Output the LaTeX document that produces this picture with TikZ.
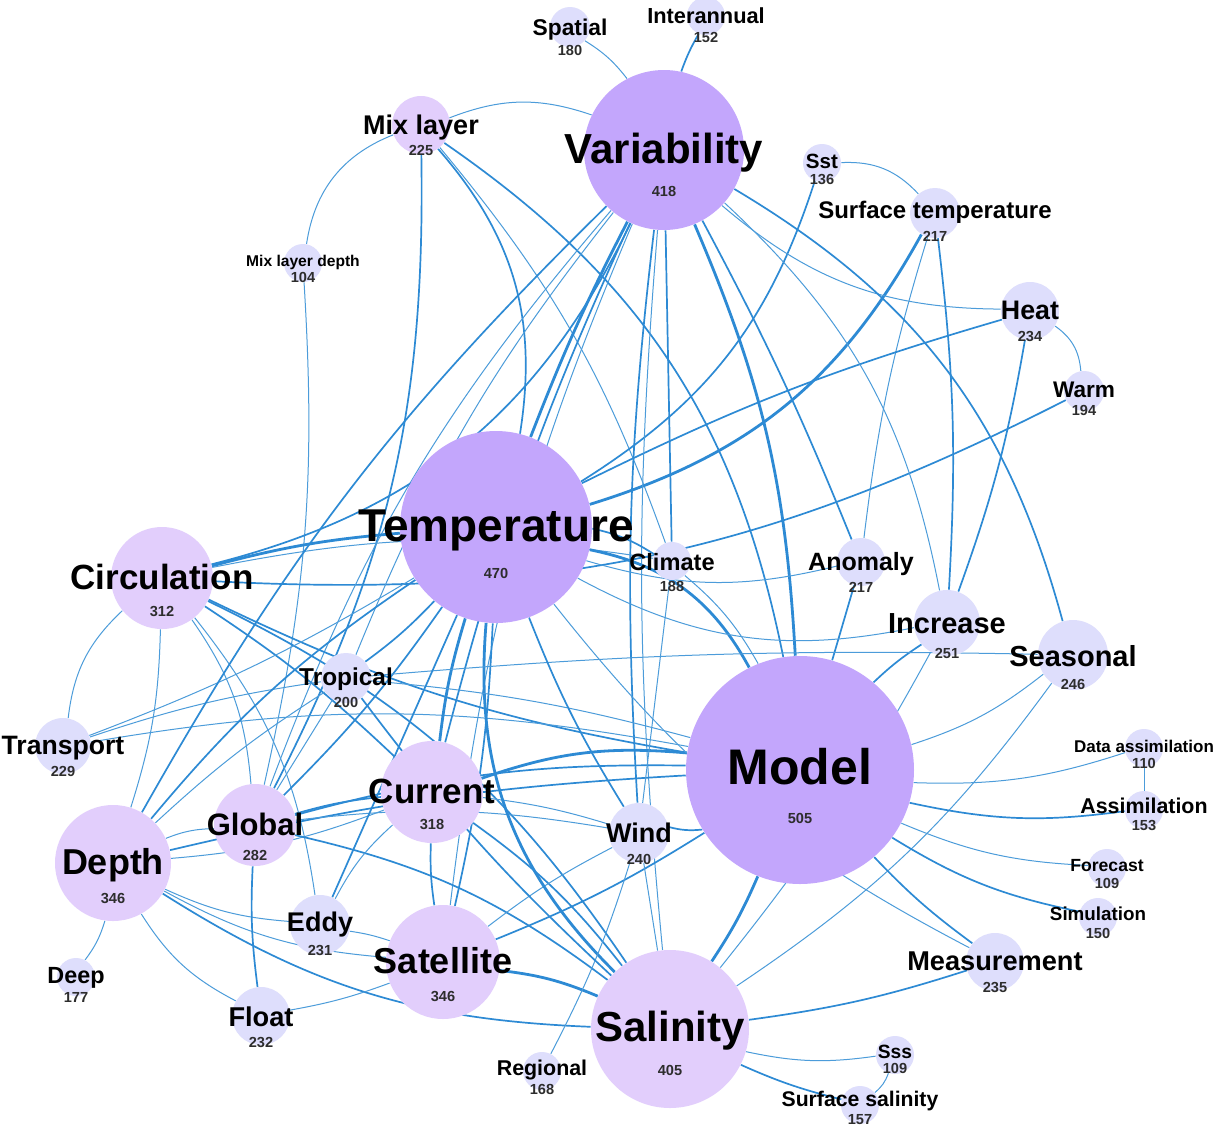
\documentclass[tikz,border=0pt]{standalone}
\usepackage{fontspec}
\setmainfont{Liberation Sans}
\usetikzlibrary{positioning}
\definecolor{fillbig}{RGB}{195,166,252}
\definecolor{fillmid}{RGB}{226,206,252}
\definecolor{fillsmall}{RGB}{222,222,252}
\definecolor{linkblue}{RGB}{45,138,212}
\definecolor{numgray}{RGB}{45,45,45}
\pgfdeclarelayer{links}
\pgfdeclarelayer{labels}
\pgfsetlayers{links,main,labels}
\tikzset{
  x=0.5pt, y=0.5pt,
  kw/.style={circle, inner sep=0pt, minimum size=#1},
  kwbig/.style={kw=#1, fill=fillbig},
  kwmid/.style={kw=#1, fill=fillmid},
  kwsmall/.style={kw=#1, fill=fillsmall},
  lbl/.style={inner sep=0pt, font=\bfseries\fontsize{#1}{#1}\selectfont},
  num/.style={inner sep=0pt, text=numgray, font=\bfseries\fontsize{7.3}{7.3}\selectfont},
  lnA/.style={draw=linkblue!85, line width=0.5pt},
  lnB/.style={draw=linkblue, line width=0.85pt},
  lnC/.style={draw=linkblue, line width=1.4pt},
}

\begin{document}
\begin{tikzpicture}
	\useasboundingbox (0,0) rectangle (1216,-1131);
	\begin{pgfonlayer}{links}
		\fill[white] (0,0) rectangle (1216,-1131);
	\end{pgfonlayer}

	% keywords
	\node[kwbig=80pt] (V) at (664,-150) {};
	\node[kwbig=96pt] (T) at (496,-527) {};
	\node[kwbig=114pt] (M) at (800,-770) {};
	\node[kwmid=79pt] (S) at (670,-1029) {};
	\node[kwmid=51pt] (Ci) at (162,-578) {};
	\node[kwmid=58pt] (De) at (113,-863) {};
	\node[kwmid=57pt] (Sa) at (443,-962) {};
	\node[kwmid=51pt] (Cu) at (432,-792) {};
	\node[kwmid=41pt] (Gl) at (255,-825) {};
	\node[kwmid=29pt] (ML) at (421,-125) {};
	\node[kwsmall=25pt] (Tr) at (346,-678) {};
	\node[kwsmall=28pt] (Tp) at (63,-746) {};
	\node[kwsmall=30pt] (Ed) at (320,-925) {};
	\node[kwsmall=19pt] (Dp) at (76,-977) {};
	\node[kwsmall=29pt] (Fl) at (261,-1016) {};
	\node[kwsmall=19pt] (Re) at (542,-1071) {};
	\node[kwsmall=30pt] (Wi) at (639,-833) {};
	\node[kwsmall=19pt] (Cl) at (672,-561) {};
	\node[kwsmall=24pt] (An) at (861,-562) {};
	\node[kwsmall=33pt] (In) at (947,-623) {};
	\node[kwsmall=35pt] (Se) at (1073,-655) {};
	\node[kwsmall=19pt] (DA) at (1144,-748) {};
	\node[kwsmall=19pt] (As) at (1144,-810) {};
	\node[kwsmall=19pt] (Fo) at (1107,-868) {};
	\node[kwsmall=19pt] (Si) at (1098,-917) {};
	\node[kwsmall=29pt] (Me) at (995,-962) {};
	\node[kwsmall=19pt] (Ss) at (895,-1055) {};
	\node[kwsmall=19pt] (SS) at (860,-1105) {};
	\node[kwsmall=29pt] (He) at (1030,-311) {};
	\node[kwsmall=20pt] (Wa) at (1084,-391) {};
	\node[kwsmall=25pt] (ST) at (935,-213) {};
	\node[kwsmall=19pt] (Sst) at (822,-163) {};
	\node[kwsmall=19pt] (IA) at (706,-16) {};
	\node[kwsmall=20pt] (Sp) at (570,-27) {};
	\node[kwsmall=19pt] (MLD) at (303,-263) {};

	% labels
	\begin{pgfonlayer}{labels}
		\node[lbl=21, yshift=-1.5pt] at (V) {Variability};
		\node[num, yshift=-20.5pt] at (V) {418};
		\node[lbl=23, yshift=-1.5pt] at (T) {Temperature};
		\node[num, yshift=-23pt] at (T) {470};
		\node[lbl=25, yshift=1.5pt] at (M) {Model};
		\node[num, yshift=-24pt] at (M) {505};
		\node[lbl=21, yshift=-1pt] at (S) {Salinity};
		\node[num, yshift=-20.5pt] at (S) {405};
		\node[lbl=17.5, yshift=0.5pt] at (Ci) {Circulation};
		\node[num, yshift=-16.5pt] at (Ci) {312};
		\node[lbl=18, yshift=-1pt] at (De) {Depth};
		\node[num, yshift=-17.5pt] at (De) {346};
		\node[lbl=18, yshift=0.5pt] at (Sa) {Satellite};
		\node[num, yshift=-17pt] at (Sa) {346};
		\node[lbl=17.5, yshift=0.5pt] at (Cu) {Current};
		\node[num, yshift=-16pt] at (Cu) {318};
		\node[lbl=15.5, yshift=0.5pt] at (Gl) {Global};
		\node[num, yshift=-15pt] at (Gl) {282};
		\node[lbl=13.5, yshift=-1.5pt] at (ML) {Mix layer};
		\node[num, yshift=-12.5pt] at (ML) {225};
		\node[lbl=12.2, yshift=-0.5pt] at (Tr) {Tropical};
		\node[num, yshift=-12pt] at (Tr) {200};
		\node[lbl=13.3, yshift=-1pt] at (Tp) {Transport};
		\node[num, yshift=-12.5pt] at (Tp) {229};
		\node[lbl=13.5] at (Ed) {Eddy};
		\node[num, yshift=-12.5pt] at (Ed) {231};
		\node[lbl=11.7, yshift=-0.5pt] at (Dp) {Deep};
		\node[num, yshift=-10pt] at (Dp) {177};
		\node[lbl=13.6, yshift=-0.5pt] at (Fl) {Float};
		\node[num, yshift=-13pt] at (Fl) {232};
		\node[lbl=10.7, yshift=0.5pt] at (Re) {Regional};
		\node[num, yshift=-9pt] at (Re) {168};
		\node[lbl=13.5] at (Wi) {Wind};
		\node[num, yshift=-13pt] at (Wi) {240};
		\node[lbl=11.8, yshift=-0.5pt] at (Cl) {Climate};
		\node[num, yshift=-12.5pt] at (Cl) {188};
		\node[lbl=12.5, yshift=-1pt] at (An) {Anomaly};
		\node[num, yshift=-12.5pt] at (An) {217};
		\node[lbl=14.5, yshift=-0.5pt] at (In) {Increase};
		\node[num, yshift=-15pt] at (In) {251};
		\node[lbl=14.5, yshift=-0.5pt] at (Se) {Seasonal};
		\node[num, yshift=-14.5pt] at (Se) {246};
		\node[lbl=8.5, yshift=1pt] at (DA) {Data assimilation};
		\node[num, yshift=-7.5pt] at (DA) {110};
		\node[lbl=10.7, yshift=2pt] at (As) {Assimilation};
		\node[num, yshift=-7.5pt] at (As) {153};
		\node[lbl=8.8, yshift=1pt] at (Fo) {Forecast};
		\node[num, yshift=-7.5pt] at (Fo) {109};
		\node[lbl=9.4, yshift=1.5pt] at (Si) {Simulation};
		\node[num, yshift=-8pt] at (Si) {150};
		\node[lbl=13.6, yshift=0.5pt] at (Me) {Measurement};
		\node[num, yshift=-12.5pt] at (Me) {235};
		\node[lbl=9.6, yshift=1.5pt] at (Ss) {Sss};
		\node[num, yshift=-6.5pt] at (Ss) {109};
		\node[lbl=10.6, yshift=2pt] at (SS) {Surface salinity};
		\node[num, yshift=-7.5pt] at (SS) {157};
		\node[lbl=13.4, yshift=0.5pt] at (He) {Heat};
		\node[num, yshift=-12.5pt] at (He) {234};
		\node[lbl=11.3, yshift=0.5pt] at (Wa) {Warm};
		\node[num, yshift=-9.5pt] at (Wa) {194};
		\node[lbl=12, yshift=0.5pt] at (ST) {Surface temperature};
		\node[num, yshift=-11.5pt] at (ST) {217};
		\node[lbl=10.3, yshift=1pt] at (Sst) {Sst};
		\node[num, yshift=-8pt] at (Sst) {136};
		\node[lbl=10.9] at (IA) {Interannual};
		\node[num, yshift=-10.5pt] at (IA) {152};
		\node[lbl=11.4, yshift=-1.5pt] at (Sp) {Spatial};
		\node[num, yshift=-11.5pt] at (Sp) {180};
		\node[lbl=7.8, yshift=0.5pt] at (MLD) {Mix layer depth};
		\node[num, yshift=-7pt] at (MLD) {104};
	\end{pgfonlayer}

	% co-occurrence links
	\begin{pgfonlayer}{links}
		\draw[lnA] (Sp) to[bend left=10] (V);
		\draw[lnB] (IA) to[bend right=5] (V);
		\draw[lnA] (ML) to[bend left=20] (V);
		\draw[lnA] (ML) to[bend right=30] (MLD);
		\draw[lnA] (MLD) to[bend left=8] (Gl);
		\draw[lnB] (ML) to[bend left=25] (T);
		\draw[lnB] (ML) to[bend left=14] (Gl);
		\draw[lnB] (ML) to[bend left=22] (M);
		\draw[lnA] (ML) to[bend left=10] (Cl);
		\draw[lnA] (Sst) to[bend left=25] (ST);
		\draw[lnB] (Sst) to[bend left=20] (T);
		\draw[lnC] (ST) to[bend left=22] (T);
		\draw[lnA] (ST) to[bend right=5] (An);
		\draw[lnB] (ST) to[bend left=5] (In);
		\draw[lnA] (V) to[bend right=20] (He);
		\draw[lnA] (He) to[bend left=25] (Wa);
		\draw[lnB] (He) to[bend right=5] (T);
		\draw[lnB] (He) to[bend left=5] (In);
		\draw[lnB] (Wa) to[bend left=15] (Ci);
		\draw[lnB] (V) to[bend left=22] (Se);
		\draw[lnC] (V) to[bend left=10] (M);
		\draw[lnB] (V) to[bend left=3] (An);
		\draw[lnA] (V) to[bend left=18] (In);
		\draw[lnC] (V) to[bend right=3] (T);
		\draw[lnB] (V) to (Cl);
		\draw[lnB] (V) to[bend right=5] (Wi);
		\draw[lnB] (V) to[bend right=5] (Cu);
		\draw[lnA] (V) to[bend right=8] (Sa);
		\draw[lnA] (V) to[bend right=10] (Gl);
		\draw[lnA] (V) to[bend right=8] (Tr);
		\draw[lnA] (V) to[bend right=5] (S);
		\draw[lnB] (Ci) to[bend right=25] (V);
		% circulation, transport
		\draw[lnC] (Ci) to[bend left=5] (T);
		\draw[lnB] (Ci) to[bend right=8] (M);
		\draw[lnA] (Ci) to[bend right=20] (Tp);
		\draw[lnA] (Ci) to[bend left=8] (De);
		\draw[lnA] (Ci) to[bend left=15] (Gl);
		\draw[lnA] (Ci) to[bend left=15] (Ed);
		\draw[lnB] (Ci) to[bend left=5] (Cu);
		\draw[lnB] (Ci) to[bend left=15] (S);
		\draw[lnA] (Ci) to[bend left=10] (Cl);
		\draw[lnA] (Tp) to[bend left=5] (Tr);
		\draw[lnA] (Tp) to[bend left=10] (M);
		\draw[lnA] (Tp) to[bend right=5] (T);
		% depth
		\draw[lnA] (De) to[bend left=10] (Dp);
		\draw[lnA] (De) to[bend right=15] (Fl);
		\draw[lnB] (De) to[bend right=15] (S);
		\draw[lnA] (De) to[bend right=12] (Sa);
		\draw[lnA] (De) to[bend right=10] (Ed);
		\draw[lnA] (De) to[bend right=8] (Cu);
		\draw[lnB] (De) to[bend left=5] (M);
		\draw[lnA] (De) to[bend left=10] (Gl);
		\draw[lnB] (De) to[bend left=8] (T);
		\draw[lnB] (De) to[bend left=8] (V);
		\draw[lnA] (De) to[bend left=5] (Tr);
		% global
		\draw[lnB] (Gl) to[bend right=5] (Fl);
		\draw[lnB] (Gl) to[bend right=5] (T);
		\draw[lnB] (Gl) to[bend left=12] (S);
		\draw[lnB] (Gl) to[bend left=8] (M);
		\draw[lnB] (Gl) to[bend left=5] (Cu);
		\draw[lnA] (Gl) to[bend left=8] (Wi);
		\draw[lnA] (Gl) to (Tr);
		% current
		\draw[lnC] (Cu) to[bend left=5] (T);
		\draw[lnB] (Cu) to[bend right=5] (Sa);
		\draw[lnA] (Cu) to[bend right=10] (Ed);
		\draw[lnC] (Cu) to[bend left=12] (M);
		\draw[lnB] (Cu) to[bend left=8] (S);
		\draw[lnA] (Cu) to[bend left=5] (Wi);
		% satellite
		\draw[lnC] (Sa) to[bend left=8] (S);
		\draw[lnB] (Sa) to[bend right=5] (M);
		\draw[lnA] (Sa) to[bend left=5] (Fl);
		\draw[lnA] (Sa) to[bend left=5] (Wi);
		\draw[lnA] (Sa) to[bend right=5] (Ed);
		\draw[lnB] (Sa) to[bend right=5] (T);
		% salinity
		\draw[lnC] (S) to[bend right=5] (M);
		\draw[lnB] (S) to[bend right=5] (Me);
		\draw[lnA] (S) to[bend right=10] (Ss);
		\draw[lnB] (S) to[bend right=5] (SS);
		\draw[lnA] (Se) to[bend left=10] (S);
		\draw[lnA] (In) to[bend left=5] (S);
		\draw[lnC] (T) to[bend right=25] (S);
		\draw[lnA] (Re) to[bend right=5] (Wi);
		\draw[lnB] (Tr) to[bend right=5] (S);
		\draw[lnA] (Wi) to (S);
		\draw[lnA] (Ss) to[bend left=15] (SS);
		% model
		\draw[lnA] (M) to[bend right=10] (DA);
		\draw[lnA] (DA) to (As);
		\draw[lnB] (M) to[bend right=10] (As);
		\draw[lnA] (M) to[bend right=10] (Fo);
		\draw[lnB] (M) to[bend right=10] (Si);
		\draw[lnB] (M) to[bend right=5] (Me);
		\draw[lnA] (T) to[bend right=12] (Me);
		\draw[lnA] (M) to[bend right=10] (Se);
		\draw[lnB] (M) to[bend left=5] (In);
		\draw[lnB] (An) to (M);
		\draw[lnA] (Cl) to[bend left=10] (M);
		\draw[lnC] (T) to[bend left=25] (M);
		\draw[lnB] (M) to[bend left=10] (Wi);
		\draw[lnA] (Tr) to[bend left=3] (Se);
		\draw[lnA] (Tr) to[bend left=5] (M);
		\draw[lnA] (In) to[bend left=20] (T);
		\draw[lnA] (An) to[bend left=15] (T);
		\draw[lnB] (Cl) to[bend right=10] (T);
		\draw[lnA] (Cl) to (Wi);
		\draw[lnB] (T) to[bend right=5] (Wi);
		\draw[lnB] (Tr) to[bend right=5] (T);
		\draw[lnB] (Ed) to (T);
	\end{pgfonlayer}

\end{tikzpicture}
\end{document}
